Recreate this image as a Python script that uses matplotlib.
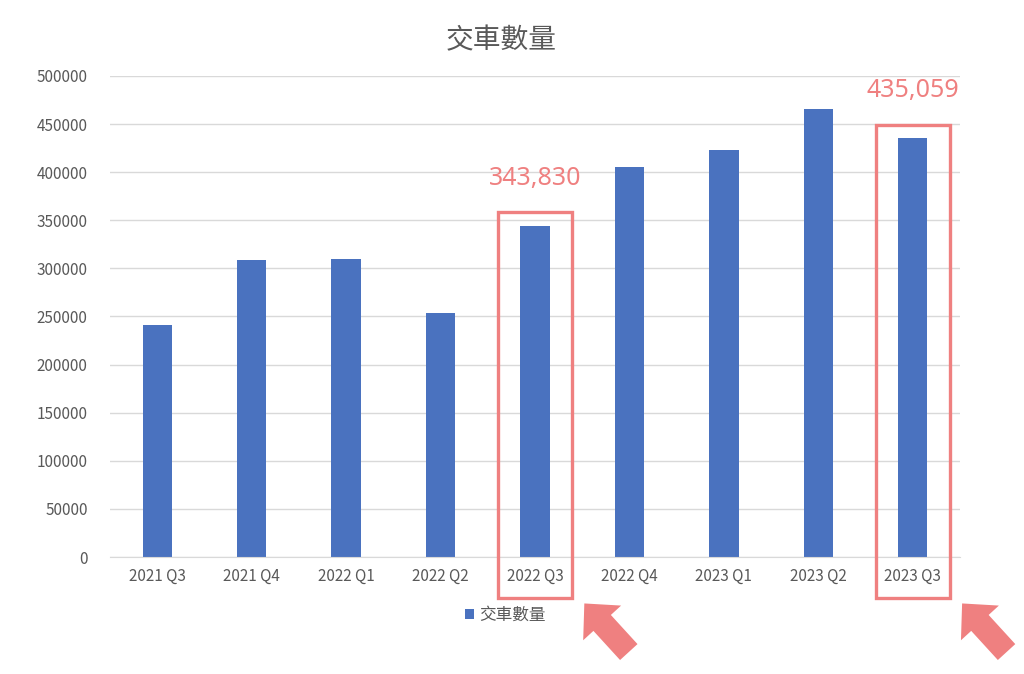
import matplotlib.pyplot as plt
from matplotlib.patches import Rectangle
from matplotlib.transforms import offset_copy
import numpy as np

plt.rcParams['font.family'] = ['Noto Sans CJK TC', 'DejaVu Sans']

quarters = ['2021 Q3', '2021 Q4', '2022 Q1', '2022 Q2', '2022 Q3',
            '2022 Q4', '2023 Q1', '2023 Q2', '2023 Q3']
deliveries = [241300, 308600, 309800, 254000, 343830,
              405300, 422900, 466100, 435059]
highlight = [4, 8]
title = '交車數量'

bar_color = '#4A72BF'
mark_color = '#EF8080'
text_gray = '#595959'
grid_gray = '#D9D9D9'


def main():
    fig = plt.figure(figsize=(10.24, 6.74), dpi=100)
    ax = fig.add_axes([110 / 1024, 117 / 674, 850 / 1024, 481 / 674])

    x = np.arange(len(quarters))
    ax.bar(x, deliveries, width=0.31, color=bar_color, label=title, zorder=2)

    ax.set_xlim(-0.5, len(quarters) - 0.5)
    ax.set_ylim(0, 500000)
    ax.set_yticks(np.arange(0, 500001, 50000))
    ax.set_xticks(x)
    ax.set_xticklabels(quarters)
    ax.tick_params(length=0, labelsize=11, labelcolor=text_gray)
    ax.tick_params(axis='x', pad=8)
    ax.tick_params(axis='y', pad=16)
    ax.yaxis.grid(True, color=grid_gray, lw=1, zorder=0)
    for side in ['top', 'right', 'left']:
        ax.spines[side].set_visible(False)
    ax.spines['bottom'].set_color(grid_gray)

    fig.text(501 / 1024, 1 - 40 / 674, title, ha='center', va='center',
             fontsize=20, color=text_gray, fontweight='light')

    # highlight boxes, labels and arrows
    bottom = -42500
    for i in highlight:
        v = deliveries[i]
        top = v + 14500
        ax.add_patch(Rectangle((i - 0.39, bottom), 0.78, top - bottom, fill=False,
                               ec=mark_color, lw=2.4, clip_on=False, zorder=3))
        ax.text(i, top + 22000, f'{v:,}', ha='center', va='bottom', fontsize=18,
                color=mark_color, family=['Noto Sans', 'DejaVu Sans'],
                fontweight='medium')
        tip = offset_copy(ax.transData, fig=fig, x=9, y=-4, units='points')
        ax.annotate('', xy=(i + 0.39, bottom), xycoords=tip,
                    xytext=(32, -35), textcoords='offset points',
                    arrowprops=dict(arrowstyle='simple,head_length=0.95,head_width=1.85,tail_width=0.85',
                                    mutation_scale=20, color=mark_color, lw=0,
                                    shrinkA=0, shrinkB=0),
                    annotation_clip=False)

    leg = fig.legend(loc='center', bbox_to_anchor=(505 / 1024, 1 - 615 / 674),
                     frameon=False, fontsize=12, handlelength=0.55, handleheight=0.55,
                     handletextpad=0.3)
    for t in leg.get_texts():
        t.set_color(text_gray)

    fig.savefig('out.png', dpi=100)


if __name__ == '__main__':
    main()
